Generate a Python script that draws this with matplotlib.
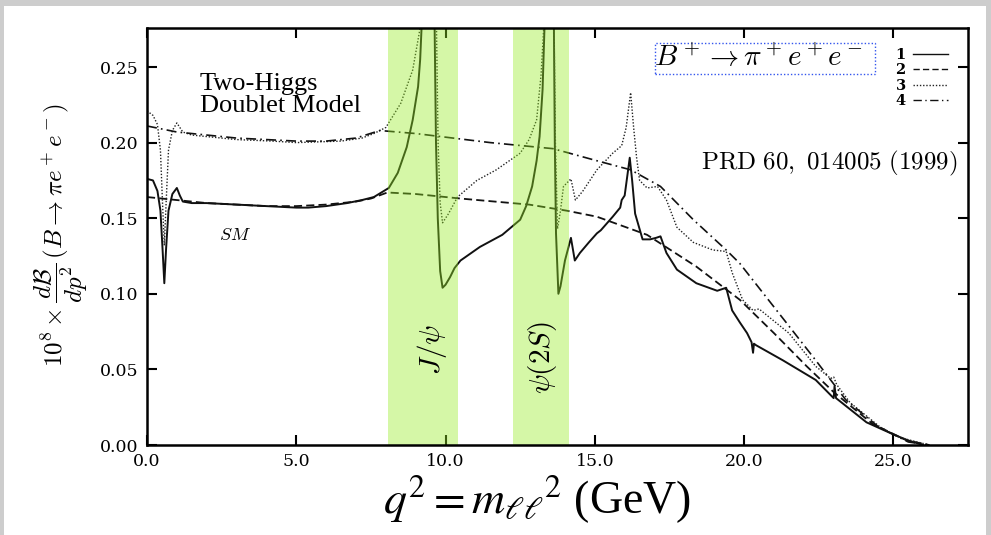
import matplotlib
matplotlib.use("Agg")
import matplotlib.pyplot as plt
from matplotlib.patches import Rectangle

plt.rcParams["mathtext.fontset"] = "cm"

# curve 1: SM with resonances (solid)
q1 = [0.0, 0.2, 0.35, 0.45, 0.52, 0.58, 0.64, 0.72, 0.85, 1.0, 1.1, 1.2, 1.5, 2.0, 3.0,
      4.0, 5.0, 5.4, 6.0, 6.7, 7.2, 7.6, 8.1, 8.4, 8.7, 8.9, 9.08, 9.15, 9.25, 9.45,
      9.62, 9.68, 9.74, 9.82, 9.9, 10.0, 10.15, 10.3, 10.5, 11.15, 11.9, 12.5, 12.7,
      12.9, 13.05, 13.15, 13.25, 13.32, 13.5, 13.62, 13.66, 13.7, 13.78, 13.85, 14.0,
      14.2, 14.33, 14.5, 14.8, 15.07, 15.2, 15.6, 15.85, 15.9, 16.0, 16.17, 16.25,
      16.35, 16.6, 16.85, 17.05, 17.2, 17.4, 17.75, 18.4, 19.1, 19.4, 19.6, 19.86,
      20.1, 20.25, 20.3, 20.33, 20.4, 21.3, 22.4, 23.0, 23.03, 23.08, 24.1, 25.0,
      25.5, 26.0]
v1 = [0.176, 0.175, 0.168, 0.155, 0.13, 0.107, 0.13, 0.155, 0.166, 0.170, 0.165, 0.161,
      0.160, 0.160, 0.159, 0.158, 0.157, 0.157, 0.158, 0.160, 0.162, 0.164, 0.170, 0.180,
      0.197, 0.215, 0.237, 0.255, 0.30, 0.60, 0.30, 0.20, 0.15, 0.115, 0.104, 0.106,
      0.111, 0.117, 0.122, 0.131, 0.139, 0.149, 0.158, 0.171, 0.188, 0.204, 0.235,
      0.28, 0.50, 0.30, 0.20, 0.14, 0.100, 0.105, 0.122, 0.137, 0.122, 0.127, 0.134,
      0.140, 0.142, 0.151, 0.157, 0.162, 0.165, 0.190, 0.175, 0.153, 0.136, 0.136,
      0.137, 0.138, 0.127, 0.116, 0.107, 0.102, 0.104, 0.089, 0.081, 0.074, 0.068,
      0.061, 0.067, 0.066, 0.056, 0.043, 0.031, 0.039, 0.031, 0.015, 0.007, 0.003, 0.0]

# curve 2: SM non-resonant (dashed)
q2 = [0.0, 0.5, 1.0, 2.0, 3.0, 4.0, 5.0, 6.0, 7.0, 7.5, 8.05, 9.0, 10.5, 12.8, 14.05,
      15.07, 16.75, 18.4, 19.86, 21.0, 22.1, 23.0, 24.3, 25.45, 26.2]
v2 = [0.164, 0.163, 0.162, 0.160, 0.159, 0.158, 0.158, 0.159, 0.161, 0.163, 0.167,
      0.166, 0.163, 0.159, 0.155, 0.151, 0.139, 0.118, 0.096, 0.074, 0.052, 0.035,
      0.014, 0.003, 0.0]

# curve 3: 2HDM with resonances (dotted)
q3 = [0.0, 0.2, 0.35, 0.45, 0.52, 0.58, 0.64, 0.72, 0.85, 1.0, 1.1, 1.2, 1.5, 2.0, 3.0,
      4.2, 5.0, 6.5, 7.2, 7.6, 8.0, 8.5, 8.9, 9.15, 9.3, 9.5, 9.68, 9.75, 9.82, 9.9,
      10.1, 10.4, 11.05, 11.7, 12.5, 12.8, 13.05, 13.2, 13.3, 13.45, 13.62, 13.68,
      13.75, 13.85, 13.95, 14.2, 14.35, 14.6, 15.07, 15.6, 15.9, 16.05, 16.2, 16.3,
      16.4, 16.5, 16.75, 17.1, 17.4, 17.75, 18.3, 18.95, 19.4, 19.6, 19.95, 20.3,
      20.5, 21.5, 22.4, 22.9, 23.0, 23.1, 23.55, 24.55, 25.2, 26.2]
v3 = [0.221, 0.218, 0.212, 0.195, 0.16, 0.132, 0.16, 0.195, 0.208, 0.213, 0.210, 0.207,
      0.205, 0.204, 0.202, 0.201, 0.200, 0.201, 0.203, 0.206, 0.210, 0.226, 0.248,
      0.276, 0.32, 0.60, 0.30, 0.20, 0.16, 0.147, 0.153, 0.164, 0.175, 0.182, 0.193,
      0.202, 0.215, 0.245, 0.28, 0.50, 0.30, 0.20, 0.143, 0.155, 0.171, 0.176, 0.162,
      0.168, 0.182, 0.193, 0.198, 0.210, 0.233, 0.210, 0.190, 0.175, 0.170, 0.171,
      0.162, 0.144, 0.134, 0.129, 0.128, 0.114, 0.096, 0.089, 0.090, 0.074, 0.052,
      0.044, 0.045, 0.040, 0.028, 0.012, 0.005, 0.0]

# curve 4: 2HDM non-resonant (dash-dot)
q4 = [0.0, 0.5, 1.0, 2.0, 3.0, 4.0, 5.0, 6.0, 7.0, 7.8, 9.0, 11.5, 13.6, 15.07, 16.2,
      17.2, 18.3, 19.4, 19.86, 21.45, 22.4, 23.4, 24.5, 25.5, 26.2]
v4 = [0.211, 0.209, 0.207, 0.205, 0.203, 0.202, 0.201, 0.201, 0.203, 0.208, 0.206,
      0.200, 0.196, 0.188, 0.182, 0.171, 0.149, 0.129, 0.120, 0.080, 0.056, 0.030,
      0.012, 0.002, 0.0]

curve_labels = ["1", "2", "3", "4"]

# charmonium veto windows
jpsi_band = (8.07, 10.42)
psi2s_band = (12.26, 14.13)

xticks = [0, 5, 10, 15, 20, 25]
xtick_labels = ["0.0", "5.0", "10.0", "15.0", "20.0", "25.0"]
yticks = [0.0, 0.05, 0.10, 0.15, 0.20, 0.25]
ytick_labels = ["0.00", "0.05", "0.10", "0.15", "0.20", "0.25"]

W, H = 991, 535
fig = plt.figure(figsize=(W / 100, H / 100), dpi=100)
fig.patch.set_facecolor("#cdcdcd")
fig.patches.append(Rectangle((4 / W, 0), 982 / W, 1 - 6 / H, transform=fig.transFigure,
                             facecolor="white", edgecolor="none", zorder=-5))

ax = fig.add_axes([147 / W, 1 - 445 / H, (968 - 147) / W, (445 - 28) / H])
ax.set_facecolor("white")

ax.plot(q1, v1, color="#111111", lw=1.4, ls="-", label=curve_labels[0])
ax.plot(q2, v2, color="#111111", lw=1.3, ls=(0, (4.5, 2.3)), label=curve_labels[1])
ax.plot(q3, v3, color="#222222", lw=1.0, ls=(0, (1, 1.3)), label=curve_labels[2])
ax.plot(q4, v4, color="#111111", lw=1.2, ls=(0, (6, 2.5, 1, 2.5)), label=curve_labels[3])

for lo, hi in (jpsi_band, psi2s_band):
    ax.axvspan(lo, hi, color="#96eb25", alpha=0.4, lw=0, zorder=5)

ax.set_xlim(0, 27.5)
ax.set_ylim(0, 0.2758)
ax.set_xticks(xticks, xtick_labels)
ax.set_yticks(yticks, ytick_labels)
ax.tick_params(direction="in", length=7, width=1.5, top=True, right=True,
               labelsize=12.5, pad=6)
for lab in ax.get_xticklabels() + ax.get_yticklabels():
    lab.set_family("DejaVu Serif")
for sp in ax.spines.values():
    sp.set_linewidth(1.8)
    sp.set_zorder(6)

leg = ax.legend(loc="upper right", bbox_to_anchor=(948 / W, 1 - 48 / H),
                bbox_transform=fig.transFigure, frameon=False, markerfirst=False,
                labelspacing=0.1, handlelength=2.4, handletextpad=0.5,
                borderpad=0, borderaxespad=0,
                prop={"family": "DejaVu Serif", "weight": "bold", "size": 10.5})
for line in leg.get_lines():
    line.set_linewidth(1.0)

# annotations
ax.text(9.54, 0.063, r"$J/\psi$", rotation=90, fontsize=21, ha="center", va="center",
        zorder=7)
ax.text(13.26, 0.058, r"$\psi(2S)$", rotation=90, fontsize=21, ha="center", va="center",
        zorder=7)
ax.text(2.95, 0.139, r"$SM$", fontsize=13, ha="center", va="center")

fig.text(200 / W, 1 - 95 / H, "Two-Higgs\nDoublet Model", family="Liberation Serif",
         fontsize=19, ha="left", va="center", linespacing=1.05)
fig.text(958 / W, 1 - 163 / H, r"$\mathrm{PRD\ 60,\ 014005\ (1999)}$", fontsize=18,
         ha="right", va="center")
fig.text(758 / W, 1 - 58 / H, r"$B^+ \to \pi^+ e^+ e^-$", fontsize=21, ha="center",
         va="center")
fig.patches.append(Rectangle((655 / W, 1 - 74 / H), 220 / W, 31 / H,
                             transform=fig.transFigure, facecolor="none",
                             edgecolor="#3355ee", lw=1.0, ls=(0, (1, 1.5)), zorder=3))

fig.text(61 / W, 1 - 235 / H,
         r"$10^8 \times \dfrac{d\mathcal{B}}{dp^2}\,(B \to \pi e^+ e^-)$",
         rotation=90, fontsize=18, ha="center", va="center")
fig.text(537 / W, 1 - 500 / H, r"$q^2 = m_{\ell\ell}{}^{2}$ (GeV)",
         family="Liberation Serif", math_fontfamily="stix", fontsize=33,
         ha="center", va="center")

fig.savefig("out.png", dpi=100, facecolor=fig.get_facecolor())
